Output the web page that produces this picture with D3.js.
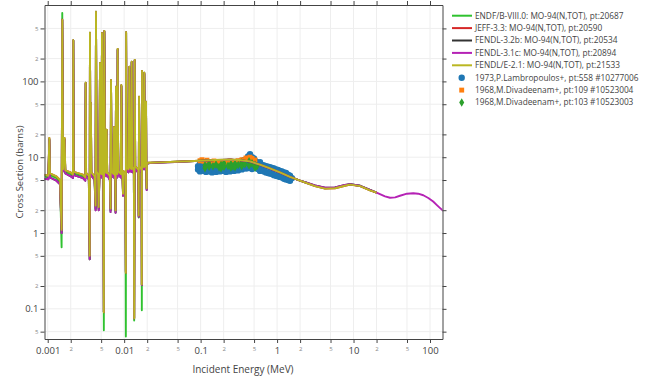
<!DOCTYPE html>
<html><head><meta charset="utf-8">
<script src="https://cdn.jsdelivr.net/npm/d3@7"></script>
<style>body{margin:0;background:#fff}svg{display:block}</style>
</head><body>
<svg id="chart" width="660" height="377"></svg>
<script>
// ---------- evaluated data: resolved resonance region (MeV, barns) ----------
const resEnergy = [0.00090,0.00102,0.00105,0.00107,0.00130,0.00145,0.00152,0.00155,0.00159,0.00166,
  0.00170,0.00200,0.00214,0.00216,0.00219,0.00290,0.00310,0.00314,0.00318,0.00345,
  0.00354,0.00357,0.00362,0.00367,0.00372,0.00410,0.00423,0.00428,0.00436,0.00455,
  0.00464,0.00475,0.00483,0.00490,0.00505,0.00513,0.00522,0.00535,0.00542,0.00550,
  0.00562,0.00585,0.00591,0.00600,0.00650,0.00664,0.00673,0.00685,0.00725,0.00736,
  0.00745,0.00765,0.00772,0.00782,0.00795,0.00815,0.00823,0.00835,0.00900,0.00918,
  0.00935,0.00955,0.00966,0.00980,0.01040,0.01052,0.01060,0.01075,0.01140,0.01167,
  0.01185,0.01240,0.01255,0.01275,0.01340,0.01352,0.01374,0.01395,0.01535,0.01550,
  0.01565,0.01590,0.01690,0.01702,0.01715,0.01740,0.01820,0.01834,0.01860,0.01920,
  0.01931,0.01950,0.01970,0.01985,0.02050];
const resFendlE21 = [5.9,5.7,18,6.1,5.6,5.0,1.1,650,7.0,18,
  6.7,6.3,5.9,350,6.4,5.9,5.4,96,6.2,5.7,
  0.5,440,6.8,52,6.3,5.6,2.3,830,6.5,5.9,
  2.2,6.4,175,6.6,6.0,436,6.3,5.6,0.09,463,
  6.6,6.2,23,6.4,5.6,2.1,104,6.5,6.0,25,
  6.3,5.6,2.0,85,6.4,6.0,267,6.6,6.0,89,
  6.3,5.5,3.3,6.6,5.8,0.3,445,7.3,6.9,156,
  7.4,7.0,182,7.5,6.6,0.075,192,7.6,6.8,1.7,
  63,7.6,6.8,0.21,137,7.8,7.4,130,8.0,7.6,
  54,7.9,3.9,8.3,8.45];
const resFendl31 = [5.2,5.1,17,5.4,4.9,4.4,1.0,650,6.5,17,
  6.1,5.6,5.3,345,5.8,5.3,4.9,94,5.6,5.1,
  0.45,430,6.2,50,5.7,5.0,2.0,820,5.9,5.3,
  2.0,5.8,170,6.0,5.4,430,5.7,5.0,0.091,455,
  6.0,5.6,22,5.8,5.0,1.9,100,5.9,5.4,24,
  5.7,5.0,1.85,83,5.8,5.4,260,6.0,5.4,86,
  5.7,5.0,3.1,6.0,5.2,0.31,440,6.7,6.3,150,
  6.8,6.4,178,6.9,6.0,0.075,188,7.0,6.2,1.64,
  61,7.0,6.3,0.206,133,7.2,6.9,126,7.4,7.0,
  52,7.3,3.7,7.9,8.3];
const resEndf = [5.6,5.4,17.5,5.8,5.3,4.7,0.65,800,6.8,17.5,
  6.4,6.0,5.6,350,6.1,5.6,5.2,96,5.9,5.4,
  0.45,440,6.5,52,6.0,5.3,2.1,830,6.2,5.6,
  2.1,6.1,175,6.3,5.7,436,6.0,5.3,0.052,463,
  6.3,5.9,23,6.1,5.3,2.0,104,6.2,5.7,25,
  6.0,5.3,1.9,85,6.1,5.7,267,6.3,5.7,89,
  6.0,5.3,3.2,6.3,5.5,0.043,445,7.0,6.6,156,
  7.1,6.7,182,7.2,6.3,0.07,192,7.3,6.5,1.6,
  63,7.3,6.5,0.096,137,7.5,7.1,130,7.7,7.3,
  54,7.6,3.8,8.1,8.4];
// JEFF-3.3 and FENDL-3.2b are indistinguishable from the overlying curves in the picture
const resJeff = resFendlE21;
const resFendl32 = resFendl31;
// ---------- smooth region up to 20 MeV ----------
const smoothEnergy = [0.0218,0.030,0.046,0.070,0.098,0.154,0.242,0.320,0.442,0.598,
  0.808,1.09,1.476,1.995,2.44,3.13,4.24,5.72,7.73,9.0,12.2,16.4,20.0];
const smoothFendlE21 = [8.45,8.55,8.7,8.85,9.0,9.2,9.3,9.2,8.8,8.0,
  7.1,6.3,5.5,4.9,4.55,4.15,3.85,3.9,4.2,4.35,4.15,3.65,3.42];
const smoothFendl31 = [8.4,8.5,8.65,8.8,8.95,9.15,9.25,9.15,8.75,7.95,
  7.05,6.25,5.5,4.9,4.6,4.25,3.95,4.0,4.3,4.4,4.2,3.7,3.42];
const smoothEndf = [8.45,8.55,8.7,8.85,9.0,9.2,9.3,9.2,8.8,8.0,
  7.1,6.3,5.5,4.9,4.6,4.2,3.9,3.95,4.25,4.4,4.2,3.7,3.42];
const smoothJeff = smoothFendlE21;
const smoothFendl32 = smoothFendl31;
// ---------- FENDL-3.1c high-energy tail ----------
const tailEnergy = [25.8,30,35,40.5,50,60.5,70,81.7,95,110,125,138,150];
const tailFendl31 = [3.05,2.92,2.95,3.1,3.3,3.35,3.3,3.15,2.9,2.6,2.3,2.1,1.95];

// ---------- experimental data ----------
const lambEnergy = [0.0925,0.0925,0.0982,0.0982,0.0982,0.1042,0.1042,0.1107,0.1107,0.1175,0.1175,0.1175,
  0.1249,0.1249,0.1327,0.1327,0.1409,0.1409,0.1497,0.1497,0.1589,0.1589,0.1688,0.1688,
  0.1792,0.1792,0.1792,0.1905,0.1905,0.2023,0.2023,0.2148,0.2148,0.2281,0.2281,0.2422,0.2422,
  0.2572,0.2572,0.2733,0.2733,0.2902,0.2902,0.3083,0.3083,0.3273,0.3273,0.3475,0.3475,
  0.3690,0.3690,0.3924,0.3924,0.4169,0.4169,0.4169,0.4426,0.4426,0.4426,0.4699,0.4699,0.4699,
  0.4989,0.4989,0.5297,0.5297,0.5635,0.5635,0.5984,0.5984,0.5984,0.6353,0.6353,0.6745,0.6745,
  0.7161,0.7161,0.7603,0.7603,0.8072,0.8072,0.8586,0.8586,0.9116,0.9116,0.9679,0.9679,
  1.028,1.028,1.091,1.091,1.159,1.159,1.233,1.233,1.309,1.309,1.390,1.390,1.476,1.476,1.567];
const lambSigma = [7.6,6.9,8.4,7.2,6.5,7.9,6.8,7.4,6.6,8.2,7.0,6.4,
  7.6,6.7,7.9,6.5,7.2,6.3,8.0,6.8,7.4,6.4,7.8,6.9,
  8.2,7.1,6.5,7.5,6.6,7.9,6.8,7.3,6.4,8.3,7.0,7.6,6.5,
  8.0,6.9,7.4,6.6,8.4,7.2,7.8,6.7,8.8,7.3,8.2,6.9,
  9.2,7.6,8.5,7.1,10.2,8.0,7.2,11.0,9.0,7.6,10.0,8.3,7.0,
  9.6,7.7,8.8,7.3,8.4,7.0,8.6,7.4,6.6,7.9,6.8,7.8,6.5,
  7.6,6.3,7.5,6.2,7.4,6.1,7.2,6.0,7.1,5.8,6.9,5.7,
  6.8,5.6,6.6,5.5,6.5,5.4,6.3,5.2,6.2,5.1,5.9,5.0,5.7,4.9,5.3];
const div04Energy = [0.0982,0.1042,0.1107,0.1210,0.1327,0.1497,0.1688,0.1905,0.2148,0.2422,0.2733,0.3083,0.3475,0.3924,0.4169,0.4426,0.4699,0.5130];
const div04Sigma = [9.0,9.3,8.8,9.1,8.7,8.9,8.6,8.8,8.5,8.9,8.6,9.0,9.3,9.8,9.4,10.0,9.6,9.2];
const div03Energy = [0.114,0.114,0.129,0.129,0.145,0.159,0.174,0.185,0.185,0.202,0.202,0.228,0.249,0.249,0.265,0.282,0.282,0.310,0.344,0.344,0.380,0.430,0.430,0.470,0.515,0.515,0.545];
const div03Sigma = [7.8,7.2,8.2,7.5,7.6,8.0,7.4,7.9,7.2,8.3,7.5,7.7,8.1,7.3,7.6,8.2,7.4,7.9,8.5,7.6,8.1,8.8,7.8,8.3,7.9,7.3,7.6];

// ---------- axis ticks ----------
const xTickValues = [0.001,0.002,0.005,0.01,0.02,0.05,0.1,0.2,0.5,1,2,5,10,20,50,100];
const xTickLabels = ["0.001","2","5","0.01","2","5","0.1","2","5","1","2","5","10","2","5","100"];
const yTickValues = [0.05,0.1,0.2,0.5,1,2,5,10,20,50,100,200,500];
const yTickLabels = ["5","0.1","2","5","1","2","5","10","2","5","100","2","5"];
const majorTicks = [0.001,0.01,0.1,1,10,100];

const seriesNames = ["ENDF/B-VIII.0: MO-94(N,TOT), pt:20687","JEFF-3.3: MO-94(N,TOT), pt:20590",
  "FENDL-3.2b: MO-94(N,TOT), pt:20534","FENDL-3.1c: MO-94(N,TOT), pt:20894","FENDL/E-2.1: MO-94(N,TOT), pt:21533"];
const seriesColors = ["#2fc22f","#d62728","#333333","#b522b5","#bab722"];
const expNames = ["1973,P.Lambropoulos+, pt:558 #10277006","1968,M.Divadeenam+, pt:109 #10523004","1968,M.Divadeenam+, pt:103 #10523003"];
const expColors = ["#1f77b4","#ff7f0e","#2ca02c"];

// ---------- build ----------
const zip = (e, s) => e.map((v, i) => [v, s[i]]);
const lines = [
  zip(resEnergy, resEndf).concat(zip(smoothEnergy, smoothEndf)),
  zip(resEnergy, resJeff).concat(zip(smoothEnergy, smoothJeff)),
  zip(resEnergy, resFendl32).concat(zip(smoothEnergy, smoothFendl32)),
  zip(resEnergy, resFendl31).concat(zip(smoothEnergy, smoothFendl31), zip(tailEnergy, tailFendl31)),
  zip(resEnergy, resFendlE21).concat(zip(smoothEnergy, smoothFendlE21))
];
const exps = [zip(lambEnergy, lambSigma), zip(div04Energy, div04Sigma), zip(div03Energy, div03Sigma)];

const L = 44.5, R = 442.5, T = 5, B = 339;
const svg = d3.select("#chart");
const x = d3.scaleLog().domain([0.000908, 145.7]).range([L, R]);
const y = d3.scaleLog().domain([0.0400, 1018]).range([B, T]);
const FONT = "'Open Sans', 'DejaVu Sans', sans-serif";

// grid
const g = svg.append("g");
g.selectAll(".vg").data(xTickValues).join("line")
  .attr("x1", d => x(d)).attr("x2", d => x(d)).attr("y1", T).attr("y2", B)
  .attr("stroke", "#eeeeee").attr("stroke-width", 1);
g.selectAll(".hg").data(yTickValues).join("line")
  .attr("y1", d => y(d)).attr("y2", d => y(d)).attr("x1", L).attr("x2", R)
  .attr("stroke", "#eeeeee").attr("stroke-width", 1);

svg.append("clipPath").attr("id", "clip").append("rect")
  .attr("x", L).attr("y", T).attr("width", R - L).attr("height", B - T);
const plot = svg.append("g").attr("clip-path", "url(#clip)");

// experimental points
const sym = [d3.symbolCircle, d3.symbolSquare, d3.symbolDiamond];
const symSize = [32, 24, 22];
exps.forEach((pts, k) => {
  plot.append("g").selectAll("path").data(pts).join("path")
    .attr("transform", d => `translate(${x(d[0])},${y(d[1])})`)
    .attr("d", d3.symbol().type(sym[k]).size(symSize[k]))
    .attr("fill", expColors[k]);
});

// evaluated lines
const lineGen = d3.line().x(d => x(d[0])).y(d => y(d[1]));
lines.forEach((pts, k) => {
  plot.append("path").datum(pts).attr("d", lineGen)
    .attr("fill", "none").attr("stroke", seriesColors[k]).attr("stroke-width", 1.9)
    .attr("stroke-linejoin", "round");
});

// axes
function styleAxis(sel, major) {
  sel.select(".domain").attr("stroke", "#444");
  sel.selectAll(".tick line").attr("stroke", "#444");
  sel.selectAll(".tick text")
    .attr("font-family", FONT)
    .attr("fill", d => major.includes(d) ? "#444" : "#888")
    .attr("font-size", d => major.includes(d) ? "9.5px" : "6px");
}
const fmtX = d => xTickLabels[xTickValues.indexOf(d)];
const fmtY = d => yTickLabels[yTickValues.indexOf(d)];
const xAx = svg.append("g").attr("transform", `translate(0,${B})`)
  .call(d3.axisBottom(x).tickValues(xTickValues).tickFormat(fmtX).tickSize(4).tickPadding(4).tickSizeOuter(0));
styleAxis(xAx, majorTicks);
const yAx = svg.append("g").attr("transform", `translate(${L},0)`)
  .call(d3.axisLeft(y).tickValues(yTickValues).tickFormat(fmtY).tickSize(4).tickPadding(2).tickSizeOuter(0));
styleAxis(yAx, majorTicks);
const xTop = svg.append("g").attr("transform", `translate(0,${T})`)
  .call(d3.axisTop(x).tickValues(xTickValues).tickFormat("").tickSize(4).tickSizeOuter(0));
styleAxis(xTop, []);
const yRight = svg.append("g").attr("transform", `translate(${R},0)`)
  .call(d3.axisRight(y).tickValues(yTickValues).tickFormat("").tickSize(4).tickSizeOuter(0));
styleAxis(yRight, []);

// titles
svg.append("text").attr("x", 243).attr("y", 373).attr("text-anchor", "middle")
  .attr("font-family", FONT).attr("font-size", "10px").attr("fill", "#444").text("Incident Energy (MeV)");
svg.append("text").attr("transform", "translate(22.5,172) rotate(-90)").attr("text-anchor", "middle")
  .attr("font-family", FONT).attr("font-size", "9.5px").attr("fill", "#444").text("Cross Section (barns)");

// legend
const lg = svg.append("g");
const rowY = i => 15.7 + i * 12.4;
seriesNames.forEach((n, i) => {
  lg.append("line").attr("x1", 452).attr("x2", 472).attr("y1", rowY(i)).attr("y2", rowY(i))
    .attr("stroke", seriesColors[i]).attr("stroke-width", 2);
  lg.append("text").attr("x", 475).attr("y", rowY(i) + 2.9).attr("font-family", FONT)
    .attr("font-size", "8.3px").attr("fill", "#444").text(n);
});
expNames.forEach((n, j) => {
  const i = j + 5;
  lg.append("path").attr("transform", `translate(461.7,${rowY(i)})`)
    .attr("d", d3.symbol().type(sym[j]).size(symSize[j])).attr("fill", expColors[j]);
  lg.append("text").attr("x", 475).attr("y", rowY(i) + 2.9).attr("font-family", FONT)
    .attr("font-size", "8.3px").attr("fill", "#444").text(n);
});
</script>
</body></html>
